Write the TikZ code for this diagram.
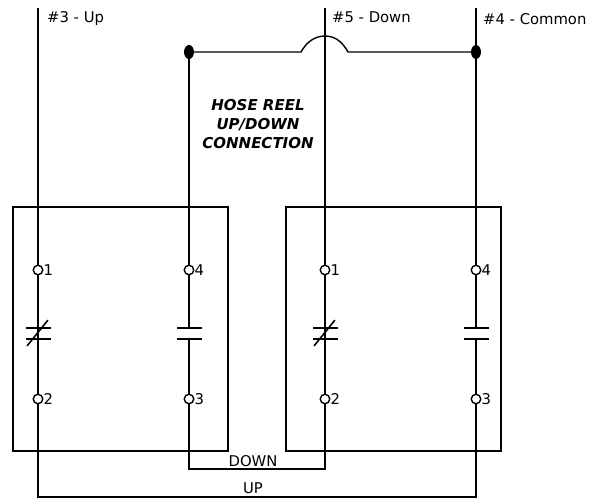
\documentclass[tikz,border=0pt]{standalone}
\usepackage{fontspec}
\setmainfont{DejaVu Sans}
\usetikzlibrary{positioning}
\usetikzlibrary{shapes.geometric}
\tikzset{
    relay/.style={
           rectangle,
           draw=black, line width=1.5pt,
           minimum width=215pt,
           minimum height=244pt,
           inner sep=0pt,
           },
    terminal/.style={
           circle,
           draw=black, line width=1.4pt,
           minimum size=9.5pt,
           inner sep=0pt,
           label distance=0.3pt,
           },
    plate/.style={
           rectangle,
           fill=black,
           minimum width=25pt,
           minimum height=1.6pt,
           inner sep=0pt,
           },
    junction/.style={
           ellipse,
           fill=black,
           minimum width=10pt,
           minimum height=14pt,
           inner sep=0pt,
           },
    wire/.style={
           draw=black, line width=1.4pt,
           },
    tag/.style={
           font=\fontsize{14.8}{17}\selectfont,
           inner sep=0pt,
           },
}

\begin{document}
\begin{tikzpicture}[x=1pt,y=-1pt]
      \useasboundingbox (0,0) rectangle (598,499);

      % RELAY BOXES
      \node[relay] (RELAY_A) at (120.5,329) {};
      \node[relay, right of=RELAY_A, node distance=273pt, anchor=center] (RELAY_B) {};

      % TERMINALS RELAY A
      \node[terminal, label={[tag]right:1}] (A_T1) at (38,270) {};
      \node[terminal, label={[tag]right:2}, below of=A_T1, node distance=129pt] (A_T2) {};
      \node[terminal, label={[tag]right:4}, right of=A_T1, node distance=151pt] (A_T4) {};
      \node[terminal, label={[tag]right:3}, below of=A_T4, node distance=129pt] (A_T3) {};

      % TERMINALS RELAY B
      \node[terminal, label={[tag]right:1}, right of=A_T1, node distance=287pt] (B_T1) {};
      \node[terminal, label={[tag]right:2}, below of=B_T1, node distance=129pt] (B_T2) {};
      \node[terminal, label={[tag]right:4}, right of=B_T1, node distance=151pt] (B_T4) {};
      \node[terminal, label={[tag]right:3}, below of=B_T4, node distance=129pt] (B_T3) {};

      % CONTACTS, closed ones get a slash
      \node[plate] (A_NC_TOP) at (38,328) {};
      \node[plate, below of=A_NC_TOP, node distance=11pt] (A_NC_BOT) {};
      \node[plate, minimum width=33pt, rotate=51] (A_NC_SLASH) at (37.5,333) {};
      \node[plate, right of=A_NC_TOP, node distance=151pt] (A_NO_TOP) {};
      \node[plate, below of=A_NO_TOP, node distance=11pt] (A_NO_BOT) {};

      \node[plate, right of=A_NC_TOP, node distance=287pt] (B_NC_TOP) {};
      \node[plate, below of=B_NC_TOP, node distance=11pt] (B_NC_BOT) {};
      \node[plate, minimum width=33pt, rotate=51] (B_NC_SLASH) at (324.5,333) {};
      \node[plate, right of=B_NC_TOP, node distance=151pt] (B_NO_TOP) {};
      \node[plate, below of=B_NO_TOP, node distance=11pt] (B_NO_BOT) {};

      % TOP LINE ENDS AND JUNCTIONS
      \coordinate (UP_END) at (38,8);
      \coordinate (DOWN_END) at (325,8);
      \coordinate (COMMON_END) at (476,8);
      \node[junction] (JUNCTION_A) at (189,52) {};
      \node[junction] (JUNCTION_B) at (476,52) {};
      \coordinate (BUMP_L) at (301,52);
      \coordinate (BUMP_TOP) at (325,36);
      \coordinate (BUMP_R) at (348,52);

      % BOTTOM CORNERS
      \coordinate (DOWN_L) at (189,469);
      \coordinate (DOWN_R) at (325,469);
      \coordinate (UP_L) at (38,497);
      \coordinate (UP_R) at (476,497);

      % TEXT
      \node[tag, anchor=west] (LABEL_UP) at (47,19) {\#3 - Up};
      \node[tag, anchor=west] (LABEL_DOWN) at (332,17) {\#5 - Down};
      \node[tag, anchor=west] (LABEL_COMMON) at (483,19) {\#4 - Common};
      \node[tag, align=center, font=\fontsize{15}{19}\selectfont\bfseries\itshape] (LABEL_HOSE) at (258,124)
      {HOSE REEL\\UP/DOWN\\CONNECTION};
      \node[tag] (LABEL_WIRE_DOWN) at (253,461) {DOWN};
      \node[tag] (LABEL_WIRE_UP) at (253,488) {UP};

      % draw the wires
      \path[wire]
      (UP_END)        edge (A_T1)
      (A_T1)          edge (A_T2)
      (JUNCTION_A)    edge (A_T4)
      (A_T4)          edge (A_NO_TOP)
      (A_NO_BOT)      edge (A_T3)
      (DOWN_END)      edge (B_T1)
      (B_T1)          edge (B_T2)
      (COMMON_END)    edge (JUNCTION_B)
      (JUNCTION_B)    edge (B_T4)
      (B_T4)          edge (B_NO_TOP)
      (B_NO_BOT)      edge (B_T3)
      ;
      \draw[wire] (JUNCTION_A) -- (BUMP_L)
          .. controls +(5,-9) and +(-11,0) .. (BUMP_TOP)
          .. controls +(11,0) and +(-5,-9) .. (BUMP_R) -- (JUNCTION_B);
      \draw[wire] (A_T3) -- (DOWN_L) -- (DOWN_R) -- (B_T2);
      \draw[wire] (A_T2) -- (UP_L) -- (UP_R) -- (B_T3);

\end{tikzpicture}
\end{document}
